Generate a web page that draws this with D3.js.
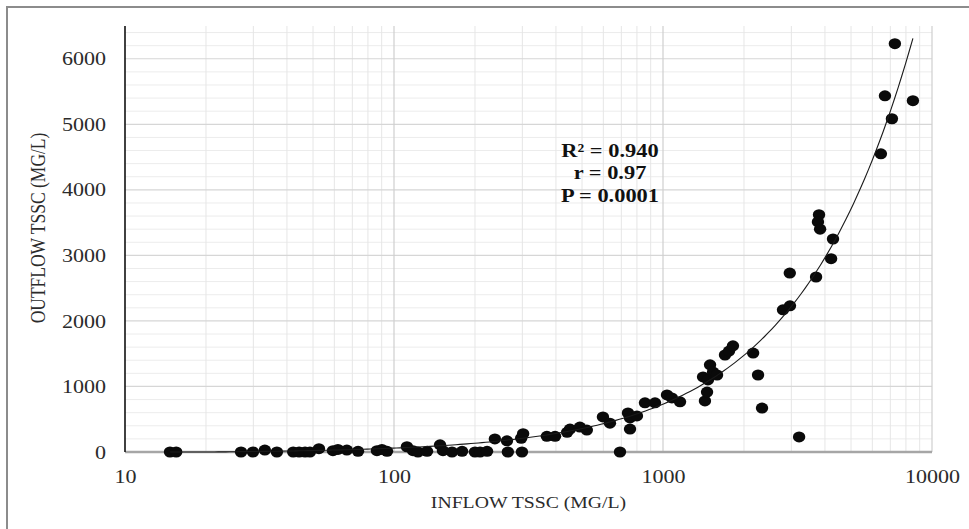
<!DOCTYPE html>
<html>
<head>
<meta charset="utf-8">
<script src="https://cdn.jsdelivr.net/npm/d3@7"></script>
<style>
  body { margin: 0; background: #fff; }
  svg { display: block; font-family: 'Liberation Serif', 'Times New Roman', serif; }
</style>
</head>
<body>
<div id="chart"></div>
<script>
// Data (mg/L)
const inflowTssc = [
  14.7, 15.5, 27.0, 29.9, 33.1, 36.7, 42.2, 44.4, 46.7, 48.7,
  52.6, 59.3, 61.9, 66.8, 73.5, 86.4, 90.2, 94.2, 111.7, 117.7,
  122.8, 132.7, 148.3, 152.1, 164.3, 179.1, 200, 208.9, 221.8, 237.1,
  263, 265, 297, 302, 299, 370, 397, 440, 451, 491,
  521, 598, 635, 692, 741, 754, 754, 800, 857, 934,
  1035, 1079, 1157, 1432, 1458, 1409, 1469, 1496, 1535, 1588,
  1700, 1760, 1820, 2163, 2256, 2334, 3206, 2793, 2965, 2960,
  3707, 3802, 3767, 3837, 4285, 4216, 7278, 6685, 8493, 7096,
  6457
];
const outflowTssc = [
  0, 0, 0, 0, 30, 0, 0, 0, 0, 0,
  50, 20, 40, 30, 10, 20, 40, 10, 80, 20,
  0, 10, 110, 20, 0, 10, 0, 0, 10, 200,
  170, 0, 210, 280, 0, 240, 240, 300, 350, 380,
  335, 535, 440, 0, 595, 520, 350, 550, 750, 750,
  870, 825, 765, 780, 915, 1145, 1100, 1330, 1220, 1175,
  1480, 1540, 1620, 1510, 1175, 670, 230, 2170, 2230, 2730,
  2670, 3620, 3510, 3400, 3250, 2950, 6230, 5435, 5360, 5085,
  4550
];
const xTickValues = [10, 100, 1000, 10000];
const yTickValues = [0, 1000, 2000, 3000, 4000, 5000, 6000];
const stats = ['R\u00b2 = 0.940', 'r = 0.97', 'P = 0.0001'];
// linear trendline
const trendSlope = 0.745;
const trendIntercept = -15;

const data = inflowTssc.map((d, i) => ({ x: d, y: outflowTssc[i] }));

const W = 969, H = 529;
const margin = { top: 26, right: 37, bottom: 77, left: 125 };
const width = W - margin.left - margin.right,
  height = H - margin.top - margin.bottom;
const stretch = 1.16; // text in the picture is a bit wide
const serif = "'Liberation Serif', 'Times New Roman', serif";

const root = d3.select('#chart').append('svg')
  .attr('width', W)
  .attr('height', H);

// frame
root.append('rect')
  .attr('x', 7).attr('y', 7)
  .attr('width', 975).attr('height', 540)
  .attr('fill', 'none')
  .attr('stroke', '#8c8c8c')
  .attr('stroke-width', 2);

const svg = root.append('g')
  .attr('transform', 'translate(' + margin.left + ',' + margin.top + ')');

const x = d3.scaleLog().domain([10, 10000]).range([0, width]);
const y = d3.scaleLinear().domain([0, 6500]).range([height, 0]);

// minor grid
const xMinor = [];
[10, 100, 1000].forEach(dec => { for (let k = 2; k <= 9; k++) xMinor.push(k * dec); });
const yMinor = d3.range(200, 6500, 200).filter(v => v % 1000 !== 0);

svg.append('g').selectAll('line').data(yMinor).join('line')
  .attr('x1', 0).attr('x2', width)
  .attr('y1', d => y(d)).attr('y2', d => y(d))
  .attr('stroke', '#ececec').attr('stroke-width', 1);
svg.append('g').selectAll('line').data(xMinor).join('line')
  .attr('x1', d => x(d)).attr('x2', d => x(d))
  .attr('y1', 0).attr('y2', height)
  .attr('stroke', '#e6e6e6').attr('stroke-width', 1);

// major grid
svg.append('g').selectAll('line').data(yTickValues.slice(1)).join('line')
  .attr('x1', 0).attr('x2', width)
  .attr('y1', d => y(d)).attr('y2', d => y(d))
  .attr('stroke', '#d6d6d6').attr('stroke-width', 1.2);
svg.append('g').selectAll('line').data(xTickValues.slice(1)).join('line')
  .attr('x1', d => x(d)).attr('x2', d => x(d))
  .attr('y1', 0).attr('y2', height)
  .attr('stroke', '#cfcfcf').attr('stroke-width', 1.2);

// axes
const yAxis = svg.append('g')
  .call(d3.axisLeft(y).tickValues(yTickValues).tickSize(0).tickFormat(d3.format('d')))
  .attr('font-family', serif);
yAxis.select('.domain').remove();
yAxis.selectAll('text')
  .attr('x', -19 / stretch)
  .attr('transform', 'scale(' + stretch + ',1)')
  .style('font-size', '19px')
  .style('font-family', serif)
  .attr('fill', '#2b2b2b');

const xAxis = svg.append('g')
  .attr('transform', 'translate(0,' + height + ')')
  .call(d3.axisBottom(x).tickValues(xTickValues).tickSize(0).tickFormat(d3.format('d')))
  .attr('font-family', serif);
xAxis.select('.domain').remove();
xAxis.selectAll('text')
  .attr('y', 31).attr('dy', null)
  .attr('transform', 'scale(' + stretch + ',1)')
  .style('font-size', '19px')
  .style('font-family', serif)
  .attr('fill', '#2b2b2b');

svg.append('line')
  .attr('x1', 0).attr('x2', width)
  .attr('y1', height).attr('y2', height)
  .attr('stroke', '#a6a6a6').attr('stroke-width', 2.5);
svg.append('line')
  .attr('x1', 0).attr('x2', 0)
  .attr('y1', 0).attr('y2', height)
  .attr('stroke', '#111').attr('stroke-width', 1.6);

// points
svg.append('g').selectAll('ellipse').data(data).join('ellipse')
  .attr('cx', d => x(d.x))
  .attr('cy', d => y(d.y))
  .attr('rx', 6.2).attr('ry', 5.5)
  .attr('fill', '#0a0a0a');

// trendline
const lo = d3.min(inflowTssc), hi = d3.max(inflowTssc);
const trend = d3.range(0, 201).map(i => {
  const xv = lo * Math.pow(hi / lo, i / 200);
  return { x: xv, y: trendSlope * xv + trendIntercept };
});
svg.append('path')
  .datum(trend)
  .attr('fill', 'none')
  .attr('stroke', '#1a1a1a')
  .attr('stroke-width', 1.1)
  .attr('d', d3.line().x(d => x(d.x)).y(d => y(Math.max(0, d.y))));

// stats box
const statY = [131, 153, 176];
svg.append('g').selectAll('text').data(stats).join('text')
  .attr('transform', (d, i) => 'translate(' + (610 - margin.left) + ',' + statY[i] + ') scale(' + (stretch + 0.02) + ',1)')
  .attr('text-anchor', 'middle')
  .style('font-size', '19px')
  .style('font-weight', 'bold')
  .attr('fill', '#111')
  .text(d => d);

// axis titles
svg.append('text')
  .attr('transform', 'translate(' + (width / 2) + ',' + (height + 56) + ') scale(' + stretch + ',1)')
  .attr('text-anchor', 'middle')
  .style('font-size', '17px')
  .attr('fill', '#2b2b2b')
  .text('INFLOW TSSC (MG/L)');

svg.append('text')
  .attr('transform', 'translate(' + (45 - margin.left) + ',' + (228 - margin.top) + ') rotate(-90) scale(1,' + stretch + ')')
  .attr('text-anchor', 'middle')
  .style('font-size', '17.5px')
  .attr('fill', '#2b2b2b')
  .text('OUTFLOW TSSC (MG/L)');
</script>
</body>
</html>
